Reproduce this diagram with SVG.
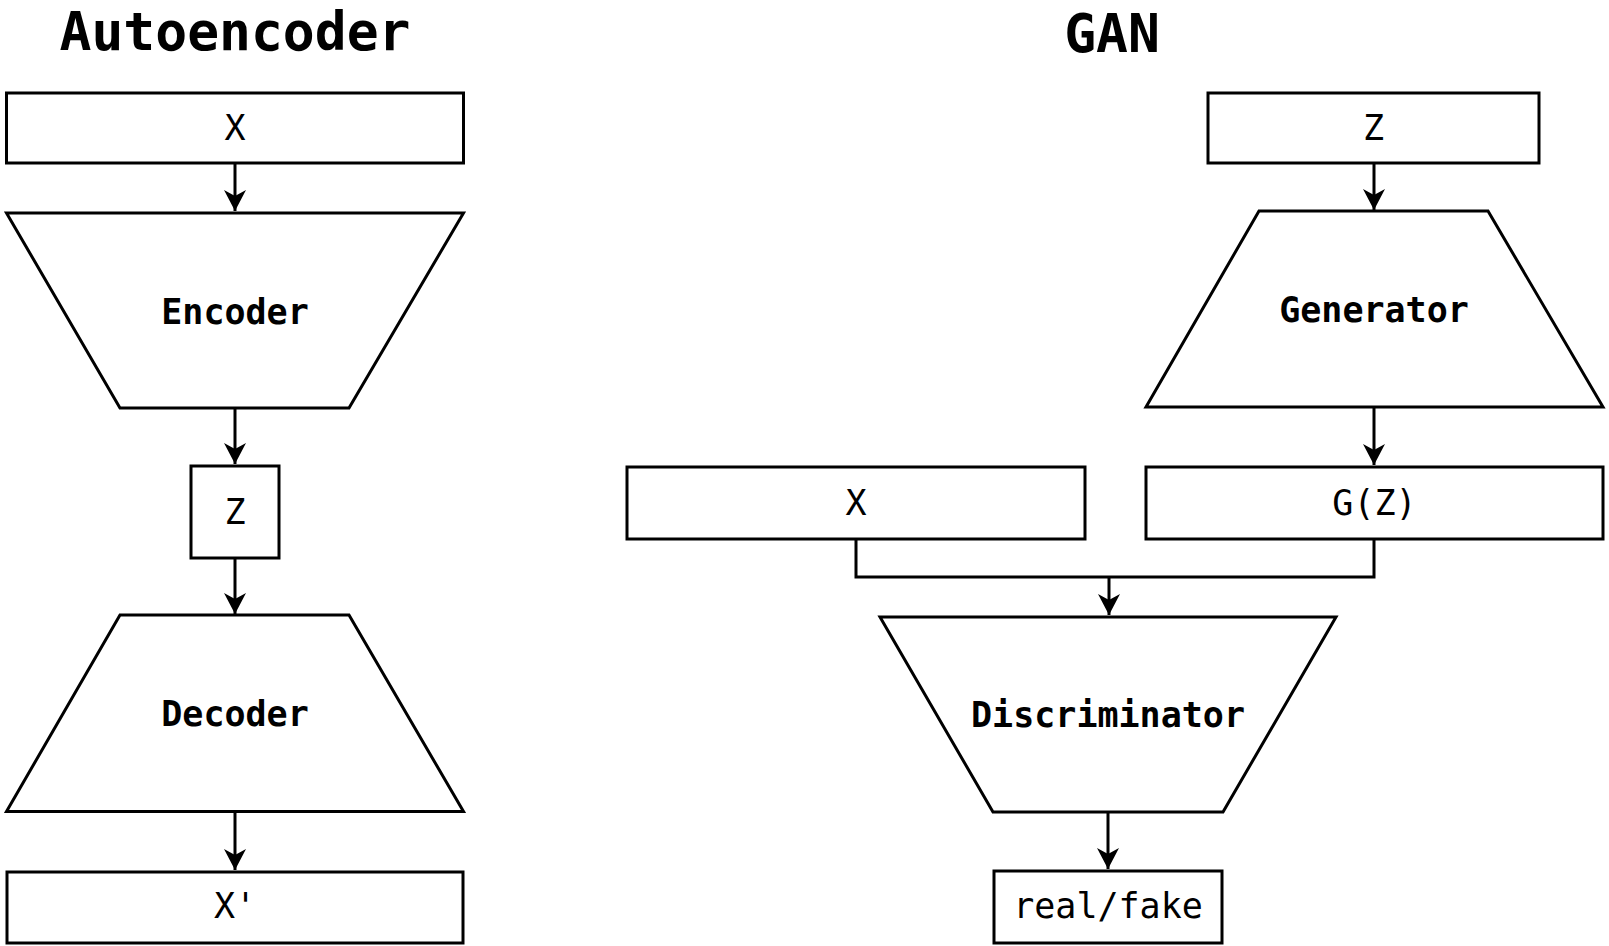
<svg xmlns="http://www.w3.org/2000/svg" width="1609" height="946" viewBox="0 0 1609 946">
<style>
.shape{fill:#fff;stroke:#000;stroke-width:3}
.conn{fill:none;stroke:#000;stroke-width:3}
.lbl{font-family:"DejaVu Sans Mono","Liberation Mono",monospace;font-size:35px;fill:#000;text-anchor:middle}
.bold{font-weight:bold}
.title{font-family:"DejaVu Sans Mono","Liberation Mono",monospace;font-size:53px;font-weight:bold;fill:#000;text-anchor:middle}
</style>
<defs>
<marker id="arr" markerUnits="userSpaceOnUse" markerWidth="26" markerHeight="26" viewBox="-24 -13 26 26" refX="0" refY="0" orient="auto">
<path d="M0,0 L-21,-11 L-15,0 L-21,11 Z" fill="#000"/>
</marker>
</defs>
<rect width="1609" height="946" fill="#fff"/>
<g id="titles">
<text class="title" x="235" y="50">Autoencoder</text>
<text class="title" x="1112" y="52">GAN</text>
</g>
<g id="connectors">
<line class="conn" x1="235" y1="163" x2="235" y2="211" marker-end="url(#arr)"/>
<line class="conn" x1="235" y1="408" x2="235" y2="464" marker-end="url(#arr)"/>
<line class="conn" x1="235" y1="558" x2="235" y2="614" marker-end="url(#arr)"/>
<line class="conn" x1="235" y1="812" x2="235" y2="870" marker-end="url(#arr)"/>
<line class="conn" x1="1374" y1="163" x2="1374" y2="210" marker-end="url(#arr)"/>
<line class="conn" x1="1374" y1="407" x2="1374" y2="465" marker-end="url(#arr)"/>
<path class="conn" d="M856,539 V577 H1374 V539"/>
<line class="conn" x1="1109" y1="577" x2="1109" y2="615" marker-end="url(#arr)"/>
<line class="conn" x1="1108" y1="812" x2="1108" y2="869" marker-end="url(#arr)"/>
</g>
<g id="ae-x">
<rect class="shape" x="6.5" y="93" width="457" height="70"/>
<text class="lbl" x="235" y="140">X</text>
</g>
<g id="ae-encoder">
<polygon class="shape" points="6.5,213 463.5,213 349,408 120,408"/>
<text class="lbl bold" x="235" y="324">Encoder</text>
</g>
<g id="ae-z">
<rect class="shape" x="191" y="466" width="88" height="92"/>
<text class="lbl" x="235" y="524">Z</text>
</g>
<g id="ae-decoder">
<polygon class="shape" points="120,615 349,615 463.5,811.5 6.5,811.5"/>
<text class="lbl bold" x="235" y="726">Decoder</text>
</g>
<g id="ae-xprime">
<rect class="shape" x="7" y="872" width="456" height="71"/>
<text class="lbl" x="235" y="918">X'</text>
</g>
<g id="gan-z">
<rect class="shape" x="1208" y="93" width="331" height="70"/>
<text class="lbl" x="1373.5" y="140">Z</text>
</g>
<g id="gan-generator">
<polygon class="shape" points="1259,211 1488,211 1603,407 1146,407"/>
<text class="lbl bold" x="1374" y="322">Generator</text>
</g>
<g id="gan-x">
<rect class="shape" x="627" y="467" width="458" height="72"/>
<text class="lbl" x="856" y="515">X</text>
</g>
<g id="gan-gz">
<rect class="shape" x="1146" y="467" width="457" height="72"/>
<text class="lbl" x="1374.5" y="515">G(Z)</text>
</g>
<g id="gan-discriminator">
<polygon class="shape" points="880,617 1336,617 1223,812 993,812"/>
<text class="lbl bold" x="1108" y="727">Discriminator</text>
</g>
<g id="gan-realfake">
<rect class="shape" x="994" y="871" width="228" height="72"/>
<text class="lbl" x="1108" y="918">real/fake</text>
</g>
</svg>
